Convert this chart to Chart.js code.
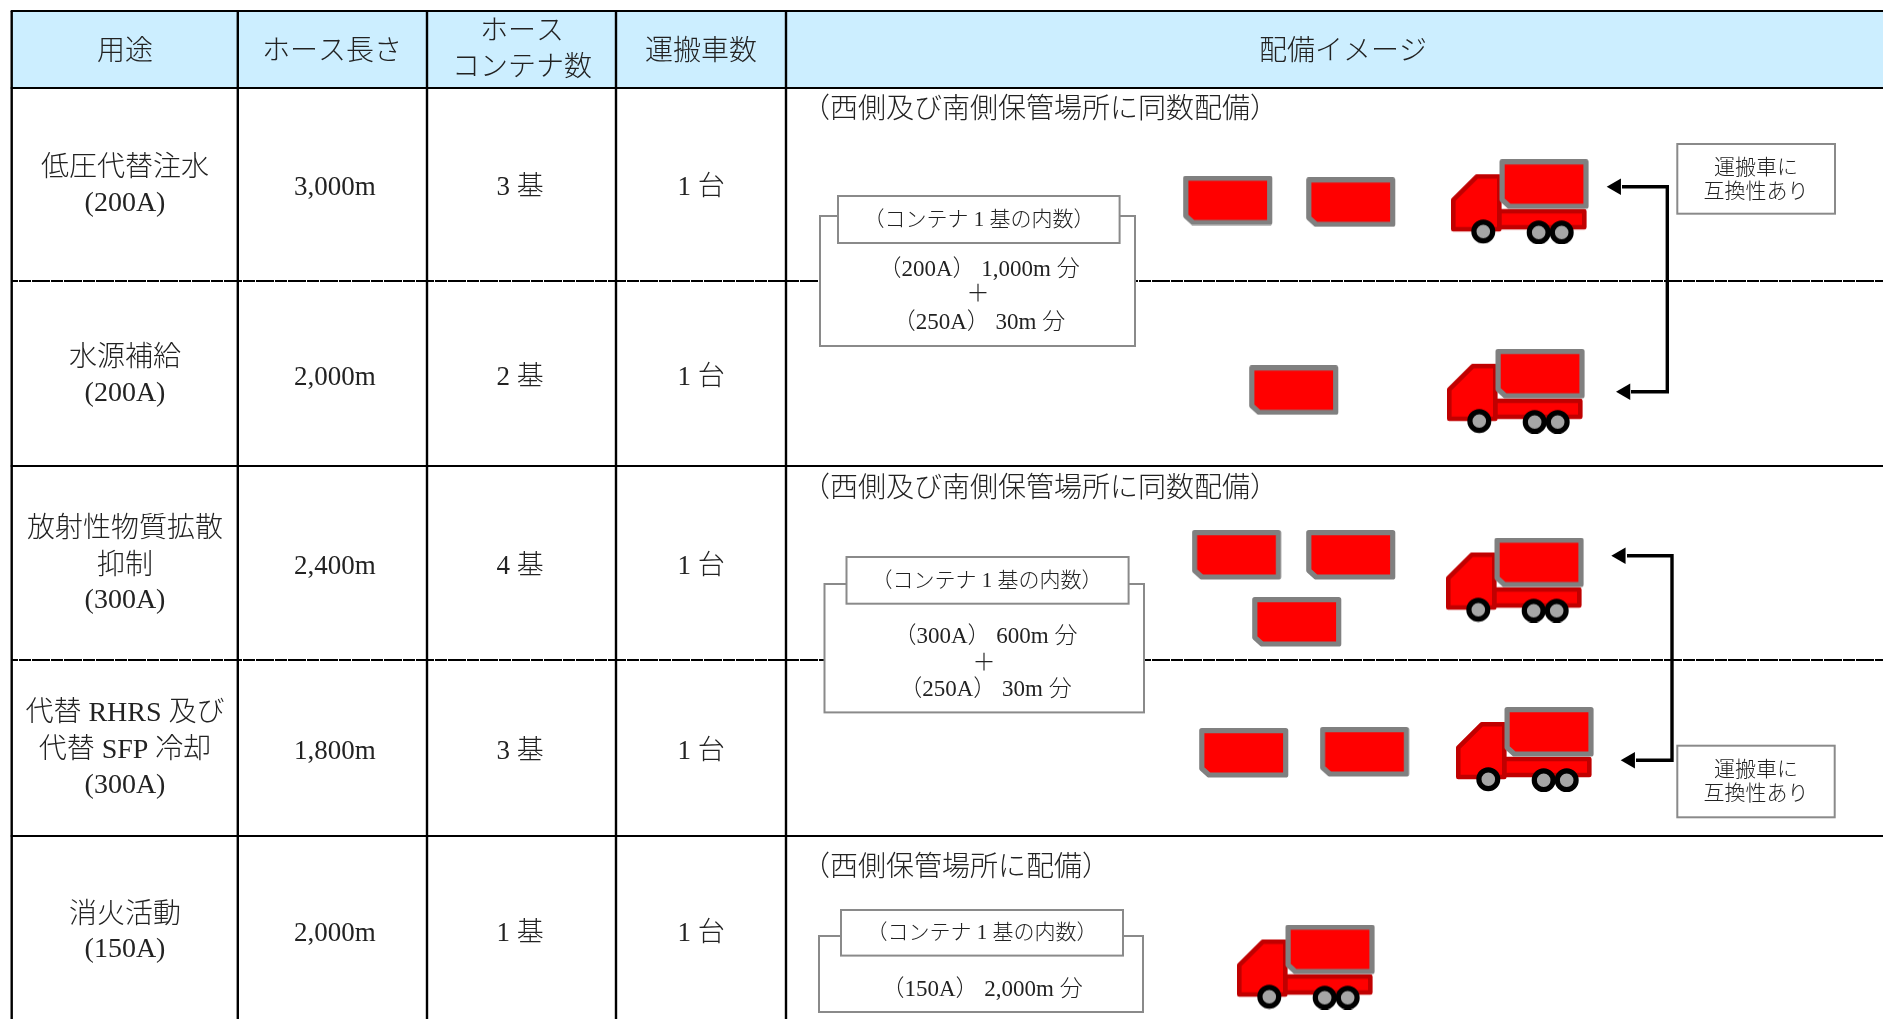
<!DOCTYPE html>
<html lang="ja">
<head>
<meta charset="utf-8">
<title>配備イメージ</title>
<script src="https://cdn.jsdelivr.net/npm/chart.js@4"></script>
<style>
  html, body { margin: 0; padding: 0; background: #fff; }
  canvas { display: block; }
</style>
</head>
<body>
<canvas id="deployChart" width="1883" height="1019"></canvas>
<script>
// Table contents
const headerLabels = ['用途', 'ホース長さ', ['ホース', 'コンテナ数'], '運搬車数', '配備イメージ'];
const usages = [
  ['低圧代替注水', '(200A)'],
  ['水源補給', '(200A)'],
  ['放射性物質拡散', '抑制', '(300A)'],
  ['代替 RHRS 及び', '代替 SFP 冷却', '(300A)'],
  ['消火活動', '(150A)']
];
const hoseLengths = ['3,000m', '2,000m', '2,400m', '1,800m', '2,000m'];
const containerCounts = [3, 2, 4, 3, 1];
const truckCounts = [1, 1, 1, 1, 1];
const placementNotes = ['（西側及び南側保管場所に同数配備）', '（西側及び南側保管場所に同数配備）', '（西側保管場所に配備）'];
const contentsTitle = '（コンテナ 1 基の内数）';
const contentsLines = [
  ['（200A） 1,000m 分', '＋', '（250A） 30m 分'],
  ['（300A） 600m 分', '＋', '（250A） 30m 分'],
  ['（150A） 2,000m 分']
];
const swapNote = ['運搬車に', '互換性あり'];

// Layout, in page pixels (the hidden x and y scales run over the whole canvas)
const PAGE_W = 1883;
const PAGE_H = 1019;
const columnEdges = [11.7, 237.8, 427, 616, 786];
const solidRows = [11, 88, 466, 836];
const dashedRows = [281, 660];
const columnCenters = [125, 335, 520, 701];
const headerCenters = [125, 332, 522, 701, 1343];
const valueRowY = [186, 376, 565, 749.5, 932];
const usageRowY = [[166, 201], [356, 391], [527, 564, 598], [711, 748, 783], [913.5, 947]];
const noteY = [108, 487, 866];
// Containers standing on the ground, per row; the remaining one rides on the truck
const containerSpots = [
  [[1228, 200.5], [1351, 202.3]],
  [[1294, 390.3]],
  [[1236.7, 555], [1351, 555], [1297, 622]],
  [[1244, 753], [1364.7, 752]],
  []
];
const truckSpots = [[1520, 201.7], [1516, 391.3], [1515, 580], [1525, 749.5], [1306, 967]];
const contentBoxes = [
  { outer: [820, 216, 1135, 346], label: [838, 196, 1119.6, 243], labelAt: [979, 218], lineX: [979, 978, 979], lineY: [268, 293, 321] },
  { outer: [824.5, 584, 1144, 712.4], label: [846.5, 557, 1128.6, 603.7], labelAt: [987, 579], lineX: [985.4, 984, 985.4], lineY: [634.7, 661.8, 688] },
  { outer: [819, 936, 1143, 1012], label: [841, 910, 1123, 955.6], labelAt: [982, 931], lineX: [982], lineY: [987.6] }
];
const swapBoxes = [
  { box: [1677.3, 144, 1835, 213.7], textY: [165.7, 189.7] },
  { box: [1677.3, 745.7, 1834.7, 817.3], textY: [768, 792] }
];
const arrowPaths = [
  [[1622, 186.7], [1667.3, 186.7], [1667.3, 391.7], [1631, 391.7]],
  [[1627, 555.7], [1672, 555.7], [1672, 760.3], [1636, 760.3]]
];
const arrowTips = [[1606.7, 186.7], [1616, 391.7], [1611.3, 555.7], [1620.7, 760.3]];

const TEXT_COLOR = '#222222';
const BOX_COLOR = '#8a8a8a';
const FONT_FAMILY = '"Liberation Serif", "Noto Sans CJK JP"';
const HEAD_RADIUS = 9.5;
const TEXT_NUDGE = 2.4; // middle baseline sits a little high with these fonts

// Container sprite: red body, grey frame, clipped lower left corner
function traceContainer(ctx, ox, oy) {
  ctx.beginPath();
  ctx.moveTo(ox + 2.8, oy + 2.6);
  ctx.lineTo(ox + 86.7, oy + 2.6);
  ctx.lineTo(ox + 86.7, oy + 47);
  ctx.lineTo(ox + 10, oy + 47);
  ctx.lineTo(ox + 2.8, oy + 40.5);
  ctx.closePath();
  ctx.fillStyle = '#ff0000';
  ctx.strokeStyle = '#808080';
  ctx.lineWidth = 5.2;
  ctx.lineJoin = 'round';
  ctx.fill();
  ctx.stroke();
}

function makeContainerSprite() {
  const c = document.createElement('canvas');
  c.width = 90;
  c.height = 50;
  traceContainer(c.getContext('2d'), 0, 0);
  return c;
}

function makeTruckSprite() {
  const c = document.createElement('canvas');
  c.width = 138;
  c.height = 85;
  const ctx = c.getContext('2d');
  ctx.lineJoin = 'round';
  ctx.fillStyle = '#ff0000';
  ctx.strokeStyle = '#c00000';
  ctx.lineWidth = 4.6;
  // Chassis
  ctx.beginPath();
  ctx.rect(48, 52, 85.3, 16);
  ctx.fill();
  ctx.stroke();
  // Cab
  ctx.beginPath();
  ctx.moveTo(2.3, 40.7);
  ctx.lineTo(25.7, 17.3);
  ctx.lineTo(48.3, 17.3);
  ctx.lineTo(48.3, 70);
  ctx.lineTo(2.3, 70);
  ctx.closePath();
  ctx.fill();
  ctx.stroke();
  traceContainer(ctx, 48.3, 0);
  // Wheels
  [[32.3, 72.3], [87.7, 73.3], [110.7, 73.3]].forEach(w => {
    ctx.beginPath();
    ctx.arc(w[0], w[1], 9.4, 0, Math.PI * 2);
    ctx.fillStyle = '#a6a6a6';
    ctx.strokeStyle = '#000000';
    ctx.lineWidth = 5.2;
    ctx.fill();
    ctx.stroke();
  });
  return c;
}

function toPoints(pairs) {
  return pairs.map(p => ({ x: p[0], y: p[1] }));
}

// Table rules as line datasets
const ruleDatasets = [];
solidRows.forEach(y => ruleDatasets.push({
  type: 'line', data: toPoints([[columnEdges[0] - 1, y], [PAGE_W, y]]),
  borderColor: '#000', borderWidth: 2.2, pointRadius: 0, order: 5
}));
dashedRows.forEach(y => ruleDatasets.push({
  type: 'line', data: toPoints([[columnEdges[0], y], [PAGE_W, y]]),
  borderColor: '#000', borderWidth: 2, borderDash: [18, 1, 12, 1], borderDashOffset: 11.7,
  pointRadius: 0, order: 5
}));
columnEdges.forEach(x => ruleDatasets.push({
  type: 'line', data: toPoints([[x, solidRows[0]], [x, PAGE_H]]),
  borderColor: '#000', borderWidth: 2.4, pointRadius: 0, order: 5
}));

const arrowDatasets = arrowPaths.map(path => ({
  type: 'line', data: toPoints(path),
  borderColor: '#000', borderWidth: 3.4, pointRadius: 0, borderJoinStyle: 'miter', order: 2
}));

const looseContainers = containerSpots.flatMap((spots, row) => spots.slice(0, containerCounts[row] - 1));

function textLine(ctx, scales, str, x, y, size, align) {
  ctx.font = '300 ' + size + 'px ' + FONT_FAMILY;
  ctx.textAlign = align || 'center';
  ctx.textBaseline = 'middle';
  ctx.fillStyle = TEXT_COLOR;
  ctx.fillText(str, scales.x.getPixelForValue(x), scales.y.getPixelForValue(y + TEXT_NUDGE));
}

function boxRect(ctx, scales, b) {
  const left = scales.x.getPixelForValue(b[0]);
  const top = scales.y.getPixelForValue(b[1]);
  const w = scales.x.getPixelForValue(b[2]) - left;
  const h = scales.y.getPixelForValue(b[3]) - top;
  ctx.fillStyle = '#ffffff';
  ctx.strokeStyle = BOX_COLOR;
  ctx.lineWidth = 2;
  ctx.fillRect(left, top, w, h);
  ctx.strokeRect(left, top, w, h);
}

// Header band goes under the rules
const headerBand = {
  id: 'headerBand',
  beforeDatasetsDraw(chart) {
    const { ctx, scales } = chart;
    const x0 = scales.x.getPixelForValue(columnEdges[0]);
    const y0 = scales.y.getPixelForValue(solidRows[0]);
    ctx.save();
    ctx.fillStyle = '#cceeff';
    ctx.fillRect(x0, y0, scales.x.getPixelForValue(PAGE_W) - x0, scales.y.getPixelForValue(solidRows[1]) - y0);
    ctx.restore();
  }
};

// Boxes and all the text
const tableText = {
  id: 'tableText',
  afterDatasetsDraw(chart) {
    const { ctx, scales } = chart;
    ctx.save();

    headerLabels.forEach((label, i) => {
      if (Array.isArray(label)) {
        textLine(ctx, scales, label[0], headerCenters[i], 30, 28);
        textLine(ctx, scales, label[1], headerCenters[i], 66.5, 28);
      } else {
        textLine(ctx, scales, label, headerCenters[i], 50, 28);
      }
    });

    usages.forEach((lines, row) => {
      lines.forEach((line, i) => textLine(ctx, scales, line, columnCenters[0], usageRowY[row][i], 28));
      textLine(ctx, scales, hoseLengths[row], columnCenters[1], valueRowY[row], 27);
      textLine(ctx, scales, containerCounts[row] + ' 基', columnCenters[2], valueRowY[row], 27);
      textLine(ctx, scales, truckCounts[row] + ' 台', columnCenters[3], valueRowY[row], 27);
    });

    placementNotes.forEach((note, i) => textLine(ctx, scales, note, 802, noteY[i], 28, 'left'));

    contentBoxes.forEach((b, i) => {
      boxRect(ctx, scales, b.outer);
      boxRect(ctx, scales, b.label);
      textLine(ctx, scales, contentsTitle, b.labelAt[0], b.labelAt[1], 21);
      contentsLines[i].forEach((line, j) => textLine(ctx, scales, line, b.lineX[j], b.lineY[j], 23));
    });

    swapBoxes.forEach(b => {
      boxRect(ctx, scales, b.box);
      swapNote.forEach((line, j) => textLine(ctx, scales, line, 1756, b.textY[j], 21));
    });

    ctx.restore();
  }
};

new Chart(document.getElementById('deployChart').getContext('2d'), {
  type: 'scatter',
  data: {
    datasets: [
      ...ruleDatasets,
      ...arrowDatasets,
      {
        label: '矢印',
        data: toPoints(arrowTips.map(t => [t[0] + HEAD_RADIUS, t[1]])),
        pointStyle: 'triangle',
        pointRotation: 270,
        pointRadius: HEAD_RADIUS,
        backgroundColor: '#000',
        borderColor: '#000',
        borderWidth: 0,
        order: 1
      },
      {
        label: 'コンテナ',
        data: toPoints(looseContainers),
        pointStyle: makeContainerSprite(),
        pointRadius: 10,
        order: 1
      },
      {
        label: '運搬車',
        data: toPoints(truckSpots),
        pointStyle: makeTruckSprite(),
        pointRadius: 10,
        order: 1
      }
    ]
  },
  options: {
    responsive: false,
    animation: false,
    devicePixelRatio: 1,
    layout: { padding: 0, autoPadding: false },
    plugins: {
      legend: { display: false },
      tooltip: { enabled: false }
    },
    scales: {
      x: { type: 'linear', min: 0, max: PAGE_W, display: false },
      y: { type: 'linear', min: 0, max: PAGE_H, reverse: true, display: false }
    }
  },
  plugins: [headerBand, tableText]
});
</script>
</body>
</html>
